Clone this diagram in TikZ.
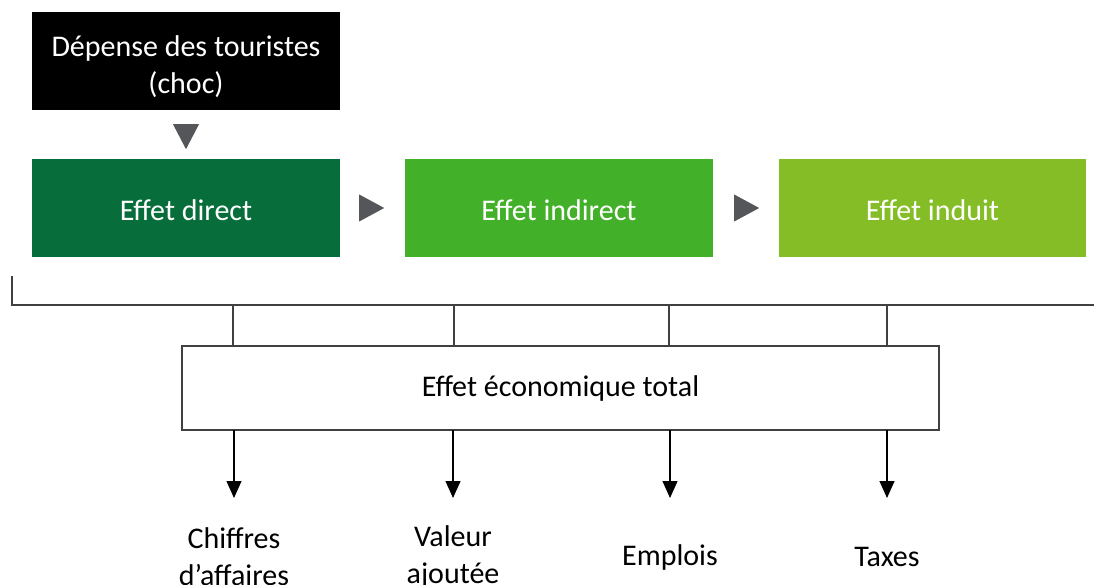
\documentclass[tikz,border=0pt]{standalone}
\usepackage{fontspec}
\setmainfont{Carlito}
\usetikzlibrary{arrows.meta,calc}
\definecolor{dgreen}{HTML}{076D3A}
\definecolor{mgreen}{HTML}{43B02A}
\definecolor{lgreen}{HTML}{84BD26}
\definecolor{tri}{HTML}{54565A}
\definecolor{ln}{HTML}{404040}
\tikzset{
  txt/.style={font=\fontsize{30}{37}\selectfont, align=center},
  box/.style={minimum width=308pt, minimum height=98pt, inner sep=0pt},
  wtxt/.style={txt, text=white, inner sep=0pt},
  lbl/.style={txt, text=black, inner sep=0pt},
  wire/.style={draw=ln, line width=1.3pt},
  arr/.style={draw=black, line width=1.1pt, -{Triangle[width=15pt,length=17pt]}},
  tri/.style={fill=tri}
}
\begin{document}
\begin{tikzpicture}[x=1pt,y=-1pt]
\useasboundingbox (0,0) rectangle (1097,585);
\node[box, fill=black] (shock) at (186,61) {};
\node[wtxt] (shockt) at ($(shock.center)+(0,6)$) {Dépense des touristes\\(choc)};
\node[box, fill=dgreen] (direct) at (186,208) {};
\node[wtxt] at ($(direct.center)+(0,2)$) {Effet direct};
\node[box, fill=mgreen] (indirect) at (559,208) {};
\node[wtxt] at ($(indirect.center)+(0,2)$) {Effet indirect};
\node[box, fill=lgreen, minimum width=307pt] (induit) at (932.5,208) {};
\node[wtxt] at ($(induit.center)+(0,2)$) {Effet induit};
% triangle markers
\fill[tri] ($(shock.south)+(-13,14)$) -- ++(26,0) -- ++(-13,25) -- cycle;
\fill[tri] ($(direct.east)+(19,-13.5)$) -- ++(0,27) -- ++(25,-13.5) -- cycle;
\fill[tri] ($(indirect.east)+(21,-13.5)$) -- ++(0,27) -- ++(25,-13.5) -- cycle;
% total box
\node[lbl, draw=ln, line width=1.3pt, minimum width=757pt, minimum height=84pt] (total) at (560.5,388) {Effet économique total};
% bracket
\coordinate (bl) at (12,276);
\coordinate (bc) at (12,305);
\coordinate (br) at (1094,305);
\draw[wire] (bl) -- (bc) -- (br);
\foreach \x in {233,454,669,887}{
  \draw[wire] (\x,305) -- (\x,346);
}
% outputs
\node[lbl] (o1) at (234,557) {Chiffres\\d’affaires};
\node[lbl] (o2) at (453,557) {Valeur\\ajoutée};
\node[lbl] (o3) at (670,557) {Emplois};
\node[lbl] (o4) at (887,557) {Taxes};
\foreach \i/\x in {1/234,2/453,3/670,4/887}{
  \coordinate (t\i) at (\x,498);
  \draw[arr] (\x,430) -- (t\i);
}
\end{tikzpicture}
\end{document}
